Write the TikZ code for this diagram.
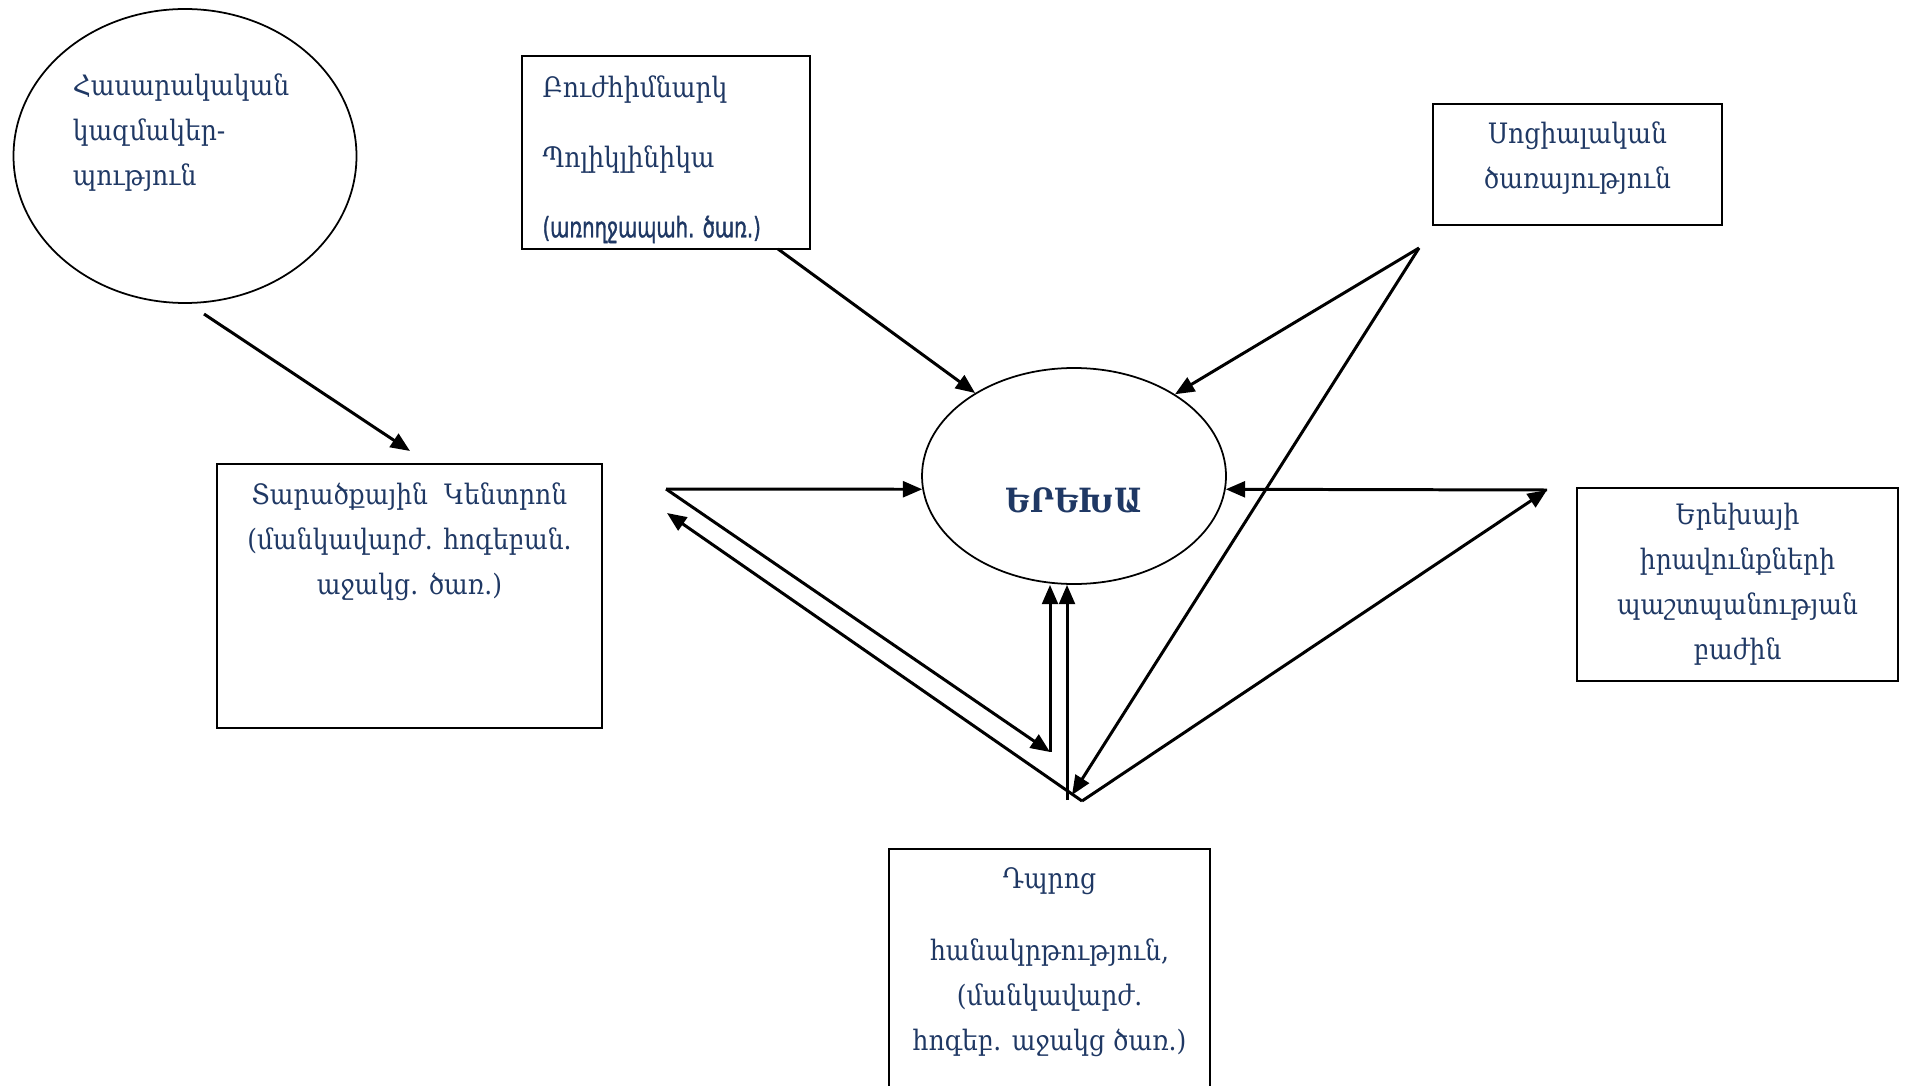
\documentclass[tikz,border=0pt]{standalone}
\usepackage{fontspec}
\setmainfont[FakeStretch=0.89]{DejaVu Serif}
\newfontfamily\armsans[FakeStretch=0.7, FakeBold=1.2]{DejaVu Sans}
\usetikzlibrary{shapes.geometric, arrows.meta, positioning, calc}
\definecolor{textblue}{HTML}{1F3864}
\tikzset{
    box/.style={rectangle, draw, line width=0.65pt, inner sep=0pt},
    bubble/.style={ellipse, draw, line width=0.5pt, inner sep=0pt},
    txt/.style={text=textblue, font=\fontsize{8}{12.8}\selectfont, align=center, inner sep=0pt},
    arrow/.style={-{Triangle[length=5.5pt, width=4.5pt]}, line width=0.85pt}
}
\begin{document}
\begin{tikzpicture}

    \useasboundingbox (0,0) rectangle (19.06,-10.86);

    % Ellipses
    \node[bubble, minimum width=3.43cm, minimum height=2.94cm,
        label={[txt, align=left, xshift=-0.04cm, yshift=0.23cm]center:{Հասարակական\\կազմակեր-\\պություն}}]
        (org) at (1.85,-1.56) {};

    \node[bubble, minimum width=3.04cm, minimum height=2.16cm,
        label={[txt, font=\fontsize{9.5}{12.8}\selectfont\bfseries, yshift=-0.24cm]center:{ԵՐԵԽԱ}}]
        (child) at (10.74,-4.76) {};

    % Boxes - Top
    \node[box, minimum width=2.88cm, minimum height=1.93cm,
        label={[txt, align=left, anchor=north west, xshift=0.21cm, yshift=-0.2cm]north west:{Բուժհիմնարկ\\[0.25cm]Պոլիկլինիկա\\[0.25cm]{\armsans (առողջապահ. ծառ.)}}}]
        (hosp) at (6.66,-1.525) {};

    \node[box, minimum width=2.89cm, minimum height=1.21cm,
        label={[txt, yshift=0.06cm]center:{Սոցիալական\\ծառայություն}}]
        (social) at (15.775,-1.645) {};

    % Boxes - Middle
    \node[box, minimum width=3.85cm, minimum height=2.64cm,
        label={[txt, anchor=north, yshift=-0.19cm]north:{Տարածքային\ \ Կենտրոն\\(մանկավարժ. հոգեբան.\\աջակց. ծառ.)}}]
        (district) at (4.095,-5.96) {};

    \node[box, txt, minimum width=3.21cm, minimum height=1.93cm]
        (rights) at (17.375,-5.845) {Երեխայի\\իրավունքների\\պաշտպանության\\բաժին};

    % Box - Bottom
    \node[box, anchor=north, minimum width=3.21cm, minimum height=2.6cm,
        label={[txt, anchor=north, yshift=-0.19cm]north:{Դպրոց\\[0.27cm]հանակրթություն,\\(մանկավարժ.\\հոգեբ. աջակց ծառ.)}}]
        (school) at (10.495,-8.48) {};

    % Line ends
    \coordinate (hubL) at (6.66,-4.89);
    \coordinate (hubR) at (15.47,-4.90);
    \coordinate (hubB) at (10.82,-8.01);
    \coordinate (orgEnd) at (2.04,-3.14);
    \coordinate (distIn) at (4.10,-4.51);
    \coordinate (hospOut) at (7.78,-2.49);
    \coordinate (socOut) at (14.19,-2.48);
    \coordinate (socTip) at (10.72,-7.95);
    \coordinate (distBack) at (6.67,-5.13);
    \coordinate (vL) at (10.50,-7.52);
    \coordinate (vR) at (10.67,-8.00);

    % Arrows
    \draw[arrow] (orgEnd) -- (distIn);
    \draw[arrow] (hospOut) -- (child.140);
    \draw[arrow] (socOut) -- (child.39);
    \draw[arrow] (socOut) -- (socTip);
    \draw[arrow] (hubR) -- (child.355);
    \draw[arrow] (hubB) -- (hubR);
    \draw[arrow] (hubL) -- (child.185);
    \draw[arrow] (hubL) -- (vL);
    \draw[arrow] (vL) -- (vL |- child.south);
    \draw[arrow] (hubB) -- (distBack);
    \draw[arrow] (vR) -- (vR |- child.south);

\end{tikzpicture}
\end{document}
